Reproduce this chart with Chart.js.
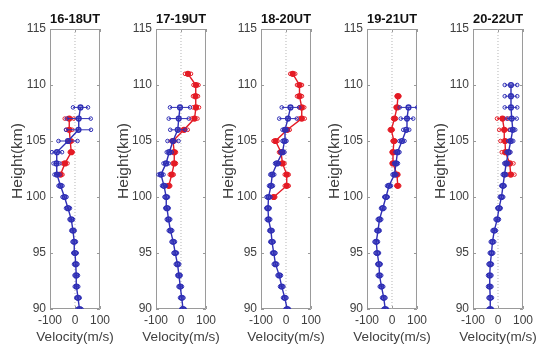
<!DOCTYPE html>
<html><head><meta charset="utf-8">
<script src="https://cdn.jsdelivr.net/npm/chart.js@4/dist/chart.umd.min.js"></script>
<style>
html,body{margin:0;padding:0;background:#fff;width:550px;height:356px;overflow:hidden;position:relative}
canvas{position:absolute;top:0}
</style></head><body>
<script>
// ---- data ----
const panelTitles = ['16-18UT','17-19UT','18-20UT','19-21UT','20-22UT'];
const yTicks = [90,95,100,105,110,115];
const xTicks = [-100,0,100];
const zeroLineX = [0];
const xAxisTitle = 'Velocity(m/s)';
const yAxisTitle = 'Height(km)';

const blueStart = [90,90,90,90,90];
const blueV1 = [18,12,6,5,3,0,-3,-8,-15,-28,-42,-58,-72,-74,-72,-28,14,15,22];
const blueE1 = [8,7,7,7,7,7,7,7,7,8,8,8,10,12,20,38,50,48,30];
const blueV2 = [8,3,-3,-8,-14,-23,-31,-42,-50,-56,-59,-68,-80,-60,-47,-32,-13,-9,-4];
const blueE2 = [7,7,7,7,7,7,7,7,7,7,7,8,10,10,10,22,30,40,40];
const blueV3 = [5,-5,-17,-27,-42,-49,-56,-60,-70,-72,-70,-60,-55,-36,-14,-6,-4,8,18];
const blueE3 = [7,7,7,7,7,7,7,7,7,7,8,8,8,8,8,8,10,35,35];
const blueV4 = [-27,-33,-42,-50,-52,-59,-63,-56,-50,-37,-24,-12,10,16,22,40,57,60,66];
const blueE4 = [7,7,7,7,7,7,7,7,7,7,7,8,8,8,8,10,12,25,35];
const blueV5 = [-31,-31,-33,-33,-31,-26,-22,-15,-3,4,14,20,26,33,42,51,59,55,52,52,52];
const blueE5 = [7,7,7,7,7,7,7,7,7,7,7,7,7,8,8,10,10,20,25,25,25];

const redStart = [102,101,100,101,102];
const redV1 = [-58,-40,-15,-19,-23,-23];
const redE1 = [8,10,6,8,12,18];
const redV2 = [-49,-37,-27,-27,-32,12,54,60,58,60,28];
const redE2 = [6,8,7,7,8,15,12,12,10,10,12];
const redV3 = [-49,3,3,-14,-20,-42,5,63,63,54,54,27];
const redE3 = [6,8,8,8,8,8,10,12,10,10,10,10];
const redV4 = [23,20,4,4,8,-3,10,20,24];
const redE4 = [6,6,6,6,6,6,6,6,6];
const redV5 = [51,47,30,28,25,18];
const redE5 = [15,15,15,18,20,22];

const blueVals = [blueV1,blueV2,blueV3,blueV4,blueV5];
const blueErrs = [blueE1,blueE2,blueE3,blueE4,blueE5];
const redVals = [redV1,redV2,redV3,redV4,redV5];
const redErrs = [redE1,redE2,redE3,redE4,redE5];

// ---- layout / style ----
const panelLefts = [50,156,261,367,473];
const BLUE = '#2f2fb5', RED = '#e41b25';
const TXT = '#404040', BOX = '#9a9a9a';
const FONT = "'Liberation Sans', Arial, sans-serif";

function series(vals, start){ return vals.map((v,i)=>({x:v, y:start+i})); }
function errSeries(vals, errs, start){
  const out=[];
  vals.forEach((v,i)=>{ out.push({x:v-errs[i], y:start+i}, {x:v+errs[i], y:start+i}, {x:v, y:null}); });
  return out;
}

const boxPlugin = {
  id:'box',
  beforeDatasetsDraw(chart){
    const {ctx, chartArea:a, scales:{x,y}} = chart;
    ctx.save();
    ctx.strokeStyle = BOX; ctx.lineWidth = 1;
    ctx.beginPath();
    ctx.rect(a.left+0.5, a.top+0.5, a.right-a.left-1, a.bottom-a.top-1);
    y.ticks.forEach(t=>{
      const py = Math.round(y.getPixelForValue(t.value))+0.5;
      ctx.moveTo(a.left, py); ctx.lineTo(a.left+3, py);
      ctx.moveTo(a.right, py); ctx.lineTo(a.right-3, py);
    });
    x.ticks.forEach(t=>{
      const px = Math.round(x.getPixelForValue(t.value))+0.5;
      ctx.moveTo(px, a.top); ctx.lineTo(px, a.top+3);
      ctx.moveTo(px, a.bottom); ctx.lineTo(px, a.bottom-3);
    });
    ctx.stroke();
    ctx.restore();
  },
  afterDraw(chart){
    const {ctx, chartArea:a} = chart;
    ctx.save();
    ctx.fillStyle = TXT;
    ctx.textAlign = 'center'; ctx.textBaseline = 'middle';
    // x axis title
    ctx.font = "13.5px " + FONT;
    ctx.fillText(xAxisTitle, (a.left + a.right)/2, a.bottom + 28);
    // y axis title, rotated
    ctx.font = "15.5px " + FONT;
    ctx.translate(a.left - 32, (a.top + a.bottom)/2 - 8);
    ctx.rotate(-Math.PI/2);
    ctx.fillText(yAxisTitle, 0, 0);
    ctx.restore();
  }
};

for (let p=0;p<5;p++){
  const cv = document.createElement('canvas');
  const W = 114;
  cv.width = W; cv.height = 356;
  cv.style.width = W+'px'; cv.style.height = '356px';
  cv.style.left = (panelLefts[p]-50)+'px';
  document.body.appendChild(cv);

  const zeroData = [{x:zeroLineX[0], y:yTicks[0]}, {x:zeroLineX[0], y:yTicks[yTicks.length-1]}];

  new Chart(cv, {
    type:'line',
    data:{datasets:[
      {data:zeroData, borderColor:'#b5b5b5', borderWidth:1, borderDash:[1,2], pointRadius:0, order:5},
      {data:errSeries(redVals[p], redErrs[p], redStart[p]), borderColor:RED, borderWidth:1,
        pointRadius:1.8, pointBorderWidth:1, pointBorderColor:RED, pointBackgroundColor:'rgba(255,255,255,0)', spanGaps:false, order:4},
      {data:series(redVals[p], redStart[p]), borderColor:RED, borderWidth:1.4,
        pointRadius:2.4, pointBorderColor:RED, pointBackgroundColor:RED, order:3},
      {data:errSeries(blueVals[p], blueErrs[p], blueStart[p]), borderColor:BLUE, borderWidth:1,
        pointRadius:1.8, pointBorderWidth:1, pointBorderColor:BLUE, pointBackgroundColor:'rgba(255,255,255,0)', spanGaps:false, order:2},
      {data:series(blueVals[p], blueStart[p]), borderColor:BLUE, borderWidth:1.4,
        pointRadius:2.4, pointBorderColor:BLUE, pointBackgroundColor:'rgba(47,47,181,0.45)', order:1}
    ]},
    options:{
      responsive:false, animation:false, devicePixelRatio:1,
      layout:{padding:{left:0,right:12,top:0,bottom:0}},
      plugins:{
        legend:{display:false}, tooltip:{enabled:false},
        title:{display:true, fullSize:false, text:panelTitles[p], color:'#111', font:{family:FONT, size:13, weight:'bold'}, padding:{top:12,bottom:1.4}}
      },
      scales:{
        x:{type:'linear', min:xTicks[0], max:xTicks[xTicks.length-1],
          afterBuildTicks(s){ s.ticks = xTicks.map(v=>({value:v})); },
          afterFit(s){ s.height = 47; },
          grid:{display:false, drawTicks:false}, border:{display:false},
          ticks:{color:TXT, font:{family:FONT, size:12}, padding:4, maxRotation:0, autoSkip:false},
          title:{display:false}
        },
        y:{type:'linear', min:yTicks[0], max:yTicks[yTicks.length-1],
          afterBuildTicks(s){ s.ticks = yTicks.map(v=>({value:v})); },
          afterFit(s){ s.width = 50; },
          grid:{display:false, drawTicks:false}, border:{display:false},
          ticks:{color:TXT, font:{family:FONT, size:12}, padding:4, autoSkip:false},
          title:{display:false}
        }
      }
    },
    plugins:[boxPlugin]
  });
}
</script>
</body></html>
